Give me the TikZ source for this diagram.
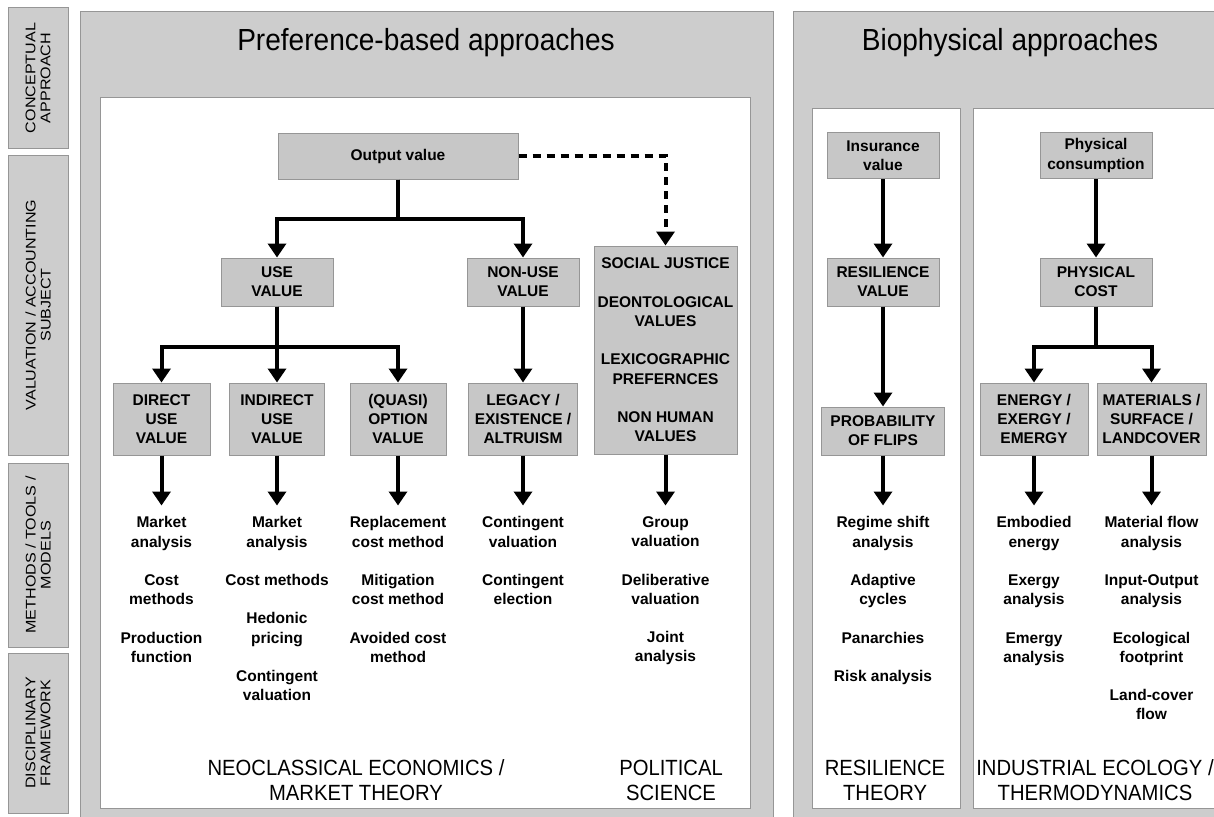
\documentclass[tikz,border=0pt]{standalone}
\usepackage{fontspec}
\setmainfont{Liberation Sans}
\newfontfamily\narrowfont[FakeStretch=0.92]{Liberation Sans}
\newfontfamily\widefont[FakeStretch=1.15]{Liberation Sans}
\usepackage{tikz}
\usetikzlibrary{arrows.meta, positioning}
\definecolor{panelgray}{RGB}{205,205,205}
\definecolor{boxgray}{RGB}{199,199,199}
\definecolor{edgegray}{RGB}{150,150,150}

\begin{document}
\begin{tikzpicture}[
    x=1pt, y=-1pt,
    panel/.style={fill=panelgray, draw=edgegray, line width=1pt},
    innerpanel/.style={fill=white, draw=edgegray, line width=1pt},
    strip/.style={rectangle, rotate=90, minimum height=60pt, inner sep=0pt, align=center, fill=panelgray, draw=edgegray, line width=1pt, font=\widefont\fontsize{14}{15}\selectfont},
    valbox/.style={rectangle, minimum height=72pt, inner sep=0pt, align=center, fill=boxgray, draw=edgegray, line width=1pt, font=\bfseries\fontsize{15.5}{19.2}\selectfont},
    tools/.style={inner sep=0pt, align=center, font=\bfseries\fontsize{15.5}{19.2}\selectfont},
    title/.style={anchor=base, font=\narrowfont\fontsize{30.5}{34}\selectfont},
    discipline/.style={inner sep=0pt, align=center, font=\narrowfont\fontsize{22}{25}\selectfont},
    arrow/.style={line width=4pt, -{Triangle[width=18pt,length=14pt]}, color=black},
    toolarrow/.style={arrow, shorten >=11pt},
    dasharrow/.style={arrow, dash pattern=on 8pt off 6pt}
]
\useasboundingbox (0,0) rectangle (1214,816);
\fill[white] (0,0) rectangle (1214,816);

% panels
\begin{scope}
\clip (0,0) rectangle (1214,816);
\draw[panel] (80,12) rectangle (773,830);
\draw[innerpanel] (100,97) rectangle (750,808);
\draw[panel] (793,12) rectangle (1230,830);
\draw[innerpanel] (812,108) rectangle (960,808);
\draw[innerpanel] (973,108) rectangle (1230,808);
\end{scope}

% row labels
\node (concept) [strip, minimum width=140pt] at (38,78) {CONCEPTUAL\\APPROACH};
\node (subject) [strip, minimum width=300pt] at (38,305) {VALUATION / ACCOUNTING\\SUBJECT};
\node (methods) [strip, minimum width=184pt] at (38,555) {METHODS / TOOLS /\\MODELS};
\node (frame) [strip, minimum width=160pt] at (38,733) {DISCIPLINARY\\FRAMEWORK};

\node (prefttl) [title] at (426,51) {Preference-based approaches};
\node (biottl) [title] at (1010,51) {Biophysical approaches};

% preference-based
\node (out) [valbox, minimum width=240pt, minimum height=46pt] at (398,156) {Output value};
\node (use) [valbox, minimum width=112pt, minimum height=48pt] at (277,282) {USE\\VALUE};
\node (nonuse) [valbox, minimum width=112pt, minimum height=48pt] at (523,282) {NON-USE\\VALUE};
\node (ethics) [valbox, minimum width=143pt, minimum height=208pt] at (665.5,350) {SOCIAL JUSTICE\\[19.2pt]DEONTOLOGICAL\\VALUES\\[19.2pt]LEXICOGRAPHIC\\PREFERNCES\\[19.2pt]NON HUMAN\\VALUES};
\node (direct) [valbox, minimum width=97pt] at (161.5,419) {DIRECT\\USE\\VALUE};
\node (indirect) [valbox, minimum width=95pt] at (277,419) {INDIRECT\\USE\\VALUE};
\node (option) [valbox, minimum width=96pt] at (398,419) {(QUASI)\\OPTION\\VALUE};
\node (legacy) [valbox, minimum width=109pt] at (523,419) {LEGACY /\\EXISTENCE /\\ALTRUISM};

% biophysical
\node (insure) [valbox, minimum width=112pt, minimum height=46pt] at (883,155.5) {Insurance\\value};
\node (resil) [valbox, minimum width=112pt, minimum height=48pt] at (883,282) {RESILIENCE\\VALUE};
\node (flips) [valbox, minimum width=123pt, minimum height=48pt] at (883,431) {PROBABILITY\\OF FLIPS};
\node (consume) [valbox, minimum width=112pt, minimum height=46pt] at (1096,155.5) {Physical\\consumption};
\node (cost) [valbox, minimum width=112pt, minimum height=48pt] at (1096,282) {PHYSICAL\\COST};
\node (energy) [valbox, minimum width=108pt] at (1034,419) {ENERGY /\\EXERGY /\\EMERGY};
\node (matter) [valbox, minimum width=109pt] at (1151.5,419) {MATERIALS /\\SURFACE /\\LANDCOVER};

% methods / tools
\node (dtools) [tools, below=61pt of direct] {Market\\analysis\\[19.2pt]Cost\\methods\\[19.2pt]Production\\function};
\node (itools) [tools, below=61pt of indirect] {Market\\analysis\\[19.2pt]Cost methods\\[19.2pt]Hedonic\\pricing\\[19.2pt]Contingent\\valuation};
\node (otools) [tools, below=61pt of option] {Replacement\\cost method\\[19.2pt]Mitigation\\cost method\\[19.2pt]Avoided cost\\method};
\node (ltools) [tools, below=61pt of legacy] {Contingent\\valuation\\[19.2pt]Contingent\\election};
\node (etools) [tools, below=62pt of ethics] {Group\\valuation\\[19.2pt]Deliberative\\valuation\\[19.2pt]Joint\\analysis};
\node (ftools) [tools, below=61pt of flips] {Regime shift\\analysis\\[19.2pt]Adaptive\\cycles\\[19.2pt]Panarchies\\[19.2pt]Risk analysis};
\node (entools) [tools, below=61pt of energy] {Embodied\\energy\\[19.2pt]Exergy\\analysis\\[19.2pt]Emergy\\analysis};
\node (mtools) [tools, below=61pt of matter] {Material flow\\analysis\\[19.2pt]Input-Output\\analysis\\[19.2pt]Ecological\\footprint\\[19.2pt]Land-cover\\flow};

% disciplinary frameworks
\node (neoclass) [discipline] at (356,780.5) {NEOCLASSICAL ECONOMICS /\\MARKET THEORY};
\node (polsci) [discipline] at (671,780.5) {POLITICAL\\SCIENCE};
\node (resth) [discipline] at (885,780.5) {RESILIENCE\\THEORY};
\node (indeco) [discipline] at (1095,780.5) {INDUSTRIAL ECOLOGY /\\THERMODYNAMICS};

% connectors
\draw[arrow] (out.south) -- ++(0,39) -| (use.north);
\draw[arrow] (out.south) -- ++(0,39) -| (nonuse.north);
\draw[dasharrow] (out.east) -| (ethics.north);
\draw[arrow] (use.south) -- ++(0,40) -| (direct.north);
\draw[arrow] (use.south) -- (indirect.north);
\draw[arrow] (use.south) -- ++(0,40) -| (option.north);
\draw[arrow] (nonuse) -- (legacy);
\draw[arrow] (insure) -- (resil);
\draw[arrow] (resil) -- (flips);
\draw[arrow] (consume) -- (cost);
\draw[arrow] (cost.south) -- ++(0,40) -| (energy.north);
\draw[arrow] (cost.south) -- ++(0,40) -| (matter.north);

\draw[toolarrow] (direct) -- (dtools);
\draw[toolarrow] (indirect) -- (itools);
\draw[toolarrow] (option) -- (otools);
\draw[toolarrow] (legacy) -- (ltools);
\draw[toolarrow] (ethics) -- (etools);
\draw[toolarrow] (flips) -- (ftools);
\draw[toolarrow] (energy) -- (entools);
\draw[toolarrow] (matter) -- (mtools);

\end{tikzpicture}
\end{document}
